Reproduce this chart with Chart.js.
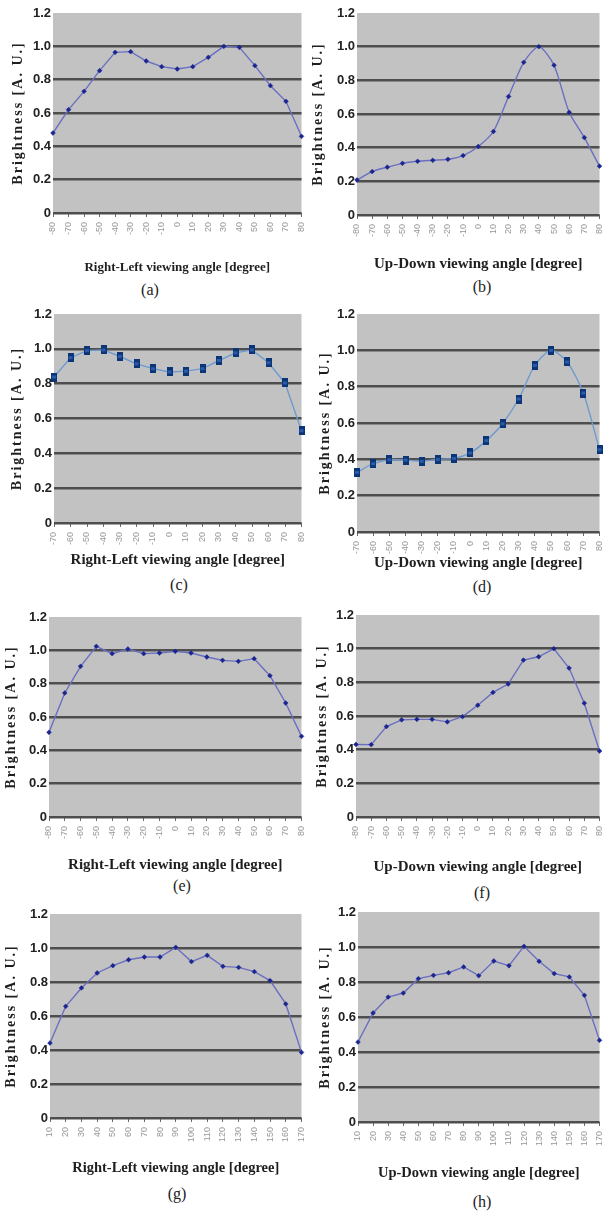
<!DOCTYPE html>
<html>
<head>
<meta charset="utf-8">
<script src="https://cdn.jsdelivr.net/npm/chart.js@4.4.1/dist/chart.umd.min.js"></script>
<style>
  html, body { margin: 0; padding: 0; background: #fff; }
  body { position: relative; width: 604px; height: 1216px; overflow: hidden; }
  .panel { position: absolute; }
  .cap { position: absolute; font: 16px "Liberation Serif", serif; color: #222; transform: translate(-50%, -50%); white-space: nowrap; }
</style>
</head>
<body>
<script>
/* ---- data ---- */
const anglesFull = ['-80', '-70', '-60', '-50', '-40', '-30', '-20', '-10', '0', '10', '20', '30', '40', '50', '60', '70', '80'];
const anglesFrom70 = ['-70', '-60', '-50', '-40', '-30', '-20', '-10', '0', '10', '20', '30', '40', '50', '60', '70', '80'];
const anglesWide = ['10', '20', '30', '40', '50', '60', '70', '80', '90', '100', '110', '120', '130', '140', '150', '160', '170'];
const yTicks = [0, 0.2, 0.4, 0.6, 0.8, 1.0, 1.2];

const brightA = [0.48, 0.62, 0.73, 0.854, 0.964, 0.968, 0.912, 0.878, 0.864, 0.878, 0.934, 1.0, 0.994, 0.884, 0.764, 0.67, 0.46];
const brightB = [0.208, 0.258, 0.284, 0.307, 0.319, 0.325, 0.331, 0.353, 0.407, 0.496, 0.704, 0.907, 1.0, 0.89, 0.61, 0.46, 0.29];
const brightC = [0.838, 0.949, 0.99, 0.994, 0.956, 0.914, 0.886, 0.867, 0.872, 0.886, 0.933, 0.977, 0.994, 0.92, 0.804, 0.53];
const brightD = [0.328, 0.376, 0.398, 0.396, 0.389, 0.4, 0.405, 0.435, 0.503, 0.596, 0.732, 0.917, 1.0, 0.936, 0.765, 0.453];
const brightE = [0.508, 0.744, 0.904, 1.024, 0.98, 1.008, 0.98, 0.984, 0.994, 0.984, 0.96, 0.94, 0.934, 0.95, 0.848, 0.684, 0.484];
const brightF = [0.431, 0.43, 0.537, 0.577, 0.58, 0.58, 0.565, 0.596, 0.664, 0.74, 0.79, 0.932, 0.952, 1.0, 0.885, 0.676, 0.392];
const brightG = [0.441, 0.657, 0.765, 0.853, 0.896, 0.931, 0.947, 0.947, 1.004, 0.92, 0.957, 0.892, 0.886, 0.861, 0.808, 0.671, 0.386];
const brightH = [0.457, 0.623, 0.714, 0.737, 0.819, 0.838, 0.853, 0.886, 0.836, 0.92, 0.893, 1.004, 0.918, 0.848, 0.829, 0.724, 0.467];

const yTitle = 'Brightness [A. U.]';
const titleRL = 'Right-Left viewing angle [degree]';
const titleUD = 'Up-Down viewing angle [degree]';

/* ---- layout: where each plot sits on the page ---- */
const panels = [
  { cap: '(a)', labels: anglesFull,   data: brightA, xTitle: titleRL, fs: 13,   col: 0, L: 53,  R: 303, T: 13,  B: 213,  xt: 267,  yt: 18,  cx: 150, cy: 290,  mark: 'dot', tension: 0 },
  { cap: '(b)', labels: anglesFull,   data: brightB, xTitle: titleUD, fs: 15,   col: 1, L: 357, R: 602, T: 13,  B: 215,  xt: 264,  yt: 318, cx: 482, cy: 287,  mark: 'dot', tension: 0.25 },
  { cap: '(c)', labels: anglesFrom70, data: brightC, xTitle: titleRL, fs: 15,   col: 0, L: 54,  R: 303, T: 314, B: 523,  xt: 560,  yt: 17,  cx: 179, cy: 585,  mark: 'box', tension: 0 },
  { cap: '(d)', labels: anglesFrom70, data: brightD, xTitle: titleUD, fs: 15,   col: 1, L: 357, R: 602, T: 314, B: 532,  xt: 563,  yt: 325, cx: 482, cy: 587,  mark: 'box', tension: 0.25 },
  { cap: '(e)', labels: anglesFull,   data: brightE, xTitle: titleRL, fs: 15,   col: 0, L: 49,  R: 303, T: 617, B: 817,  xt: 865,  yt: 11,  cx: 182, cy: 886,  mark: 'dot', tension: 0 },
  { cap: '(f)', labels: anglesFull,   data: brightF, xTitle: titleUD, fs: 15,   col: 1, L: 356, R: 603, T: 615, B: 817,  xt: 867,  yt: 322, cx: 482, cy: 893,  mark: 'dot', tension: 0 },
  { cap: '(g)', labels: anglesWide,   data: brightG, xTitle: titleRL, fs: 14.5, col: 0, L: 50,  R: 303, T: 914, B: 1118, xt: 1168, yt: 11,  cx: 177, cy: 1194, mark: 'dot', tension: 0 },
  { cap: '(h)', labels: anglesWide,   data: brightH, xTitle: titleUD, fs: 14.5, col: 1, L: 358, R: 603, T: 912, B: 1122, xt: 1173, yt: 325, cx: 482, cy: 1202, mark: 'dot', tension: 0 },
];
const cols = [{ left: 0, width: 306 }, { left: 306, width: 298 }];

// tall navy box used as marker in (c) and (d)
function boxMarker() {
  const c = document.createElement('canvas');
  c.width = 6; c.height = 9;
  const g = c.getContext('2d');
  g.fillStyle = '#0b3577';
  g.fillRect(0, 0, 6, 9);
  g.fillStyle = '#2a5aa8';
  g.fillRect(1, 3, 4, 3);
  return c;
}

const plotBg = {
  id: 'plotBg',
  beforeDraw(chart) {
    const a = chart.chartArea, ctx = chart.ctx;
    ctx.save();
    ctx.fillStyle = '#c2c2c2';
    ctx.fillRect(a.left, a.top, a.right - a.left, a.bottom - a.top);
    ctx.restore();
  }
};

const Y_FS = 14;
const Y_LH = Y_FS * 1.2;

panels.forEach(p => {
  const col = cols[p.col];
  const top = p.T - 10;
  const height = Math.round(p.xt - top + p.fs * 1.2 / 2 + 2);

  const box = document.createElement('div');
  box.className = 'panel';
  box.style.left = col.left + 'px';
  box.style.top = top + 'px';
  box.style.width = col.width + 'px';
  box.style.height = height + 'px';
  const cv = document.createElement('canvas');
  box.appendChild(cv);
  document.body.appendChild(box);

  const cap = document.createElement('div');
  cap.className = 'cap';
  cap.textContent = p.cap;
  cap.style.left = p.cx + 'px';
  cap.style.top = p.cy + 'px';
  document.body.appendChild(cap);

  const isBox = p.mark === 'box';
  const yWidth = p.L - col.left;
  const xHeight = top + height - p.B;

  new Chart(cv, {
    type: 'line',
    data: {
      labels: p.labels,
      datasets: [{
        data: p.data,
        borderColor: isBox ? '#6d9bcf' : '#6a6fc0',
        borderWidth: 1.4,
        tension: p.tension,
        pointStyle: isBox ? boxMarker() : 'rectRot',
        pointRadius: isBox ? 4 : 2.4,
        pointBackgroundColor: '#1b2590',
        pointBorderColor: '#1b2590',
        pointBorderWidth: 0.5,
      }]
    },
    options: {
      responsive: true,
      maintainAspectRatio: false,
      animation: false,
      events: [],
      layout: { padding: { top: 10, left: 0, right: col.left + col.width - p.R, bottom: 0 } },
      plugins: { legend: { display: false }, tooltip: { enabled: false } },
      scales: {
        x: {
          offset: false,
          border: { display: false },
          grid: { drawOnChartArea: false, drawTicks: true, tickLength: 4, color: '#6a6a6a', lineWidth: 1 },
          ticks: {
            autoSkip: false, maxRotation: 90, minRotation: 90, padding: 5,
            color: '#979797', font: { family: '"Liberation Sans Narrow", "Liberation Sans", sans-serif', size: 9 }
          },
          title: {
            display: true, text: p.xTitle, color: '#1e1e1e',
            padding: { top: 0, bottom: 2 },
            font: { family: '"Liberation Serif", serif', size: p.fs, weight: 'bold' }
          },
          afterFit(s) { s.height = xHeight; s.paddingLeft = 0; s.paddingRight = 0; }
        },
        y: {
          min: 0, max: 1.2,
          border: { display: false },
          afterBuildTicks(s) { s.ticks = yTicks.map(v => ({ value: v })); },
          grid: {
            drawTicks: false,
            color: c => c.tick && c.tick.value > 1.1 ? 'rgba(0,0,0,0)' : '#4e4e4e',
            lineWidth: 2.6
          },
          ticks: {
            padding: 2, color: '#222',
            font: { family: '"Liberation Sans", sans-serif', size: 13, weight: 'bold' },
            callback: v => v === 0 ? '0' : v.toFixed(1)
          },
          title: {
            display: true, text: yTitle, color: '#1e1e1e',
            padding: { top: p.yt - col.left - Y_LH / 2, bottom: 0 },
            font: { family: '"Liberation Serif", serif', size: Y_FS, weight: 'bold' }
          },
          afterFit(s) {
            s.width = yWidth;
            if (!s._spaced) {
              const orig = s.drawTitle;
              s.drawTitle = function () {
                const ctx = this.ctx;
                ctx.save();
                ctx.letterSpacing = '2px';
                orig.call(this);
                ctx.restore();
              };
              s._spaced = true;
            }
          }
        }
      }
    },
    plugins: [plotBg]
  });
});
</script>
</body>
</html>
